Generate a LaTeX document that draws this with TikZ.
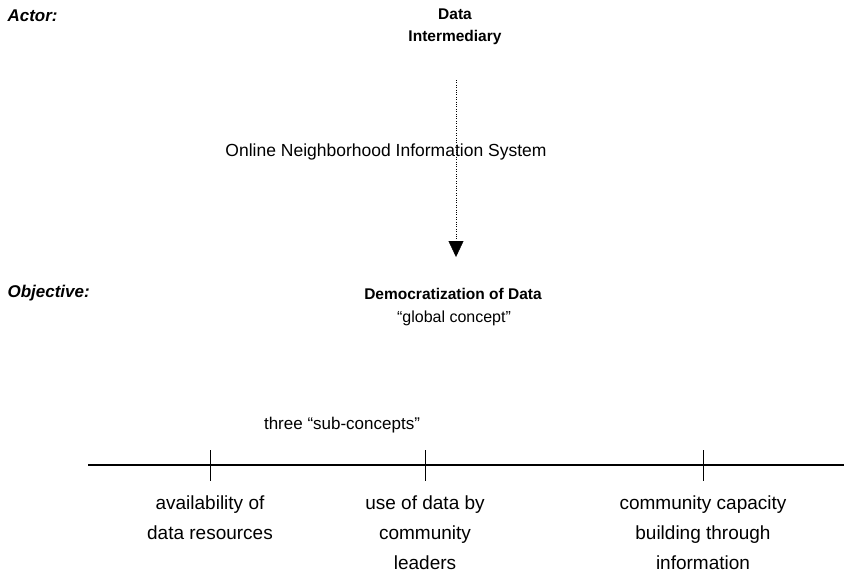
\documentclass[tikz,border=0pt]{standalone}
\usepackage{fontspec}
\setmainfont{Liberation Sans}
\usetikzlibrary{arrows.meta}
\begin{document}
\begin{tikzpicture}[x=1pt, y=-1pt, font=\fontsize{17}{22}\selectfont,
    lbl/.style={anchor=west, font=\fontsize{17}{22}\selectfont\bfseries\itshape},
    head/.style={align=center, font=\fontsize{15.5}{22}\selectfont\bfseries},
    sub/.style={align=center, anchor=north, font=\fontsize{19}{30}\selectfont}]
    \useasboundingbox (0,0) rectangle (844,584);

    % Actor
    \node[lbl] (actorlbl) at (4,16) {Actor:};
    \node[head] (actor) at (455,27) {Data\\Intermediary};

    \node[font=\fontsize{17.5}{22}\selectfont] (system) at (386,152) {Online Neighborhood Information System};

    % Objective
    \node[lbl] (objlbl) at (4,293) {Objective:};
    \node[head] (goal) at (453,294) {Democratization of Data};
    \node[font=\fontsize{16}{22}\selectfont] (global) at (454,318) {``global concept''};

    \coordinate (top) at (456,80);
    \coordinate (tip) at (456,257);
    \draw[dotted, -{Triangle[width=15pt,length=16pt]}] (top) -- (tip);

    % Sub-concepts
    \node (three) at (342,425) {three ``sub-concepts''};

    \coordinate (left) at (88,465);
    \coordinate (right) at (844,465);
    \draw[line width=1.2pt] (left) -- (right);

    \draw (210,450) -- (210,481);
    \draw (425,450) -- (425,481);
    \draw (703,450) -- (703,481);

    \node[sub] (avail) at (210,492) {availability of\\data resources};
    \node[sub] (use) at (425,492) {use of data by\\community\\leaders};
    \node[sub] (capacity) at (703,492) {community capacity\\building through\\information};
\end{tikzpicture}
\end{document}
